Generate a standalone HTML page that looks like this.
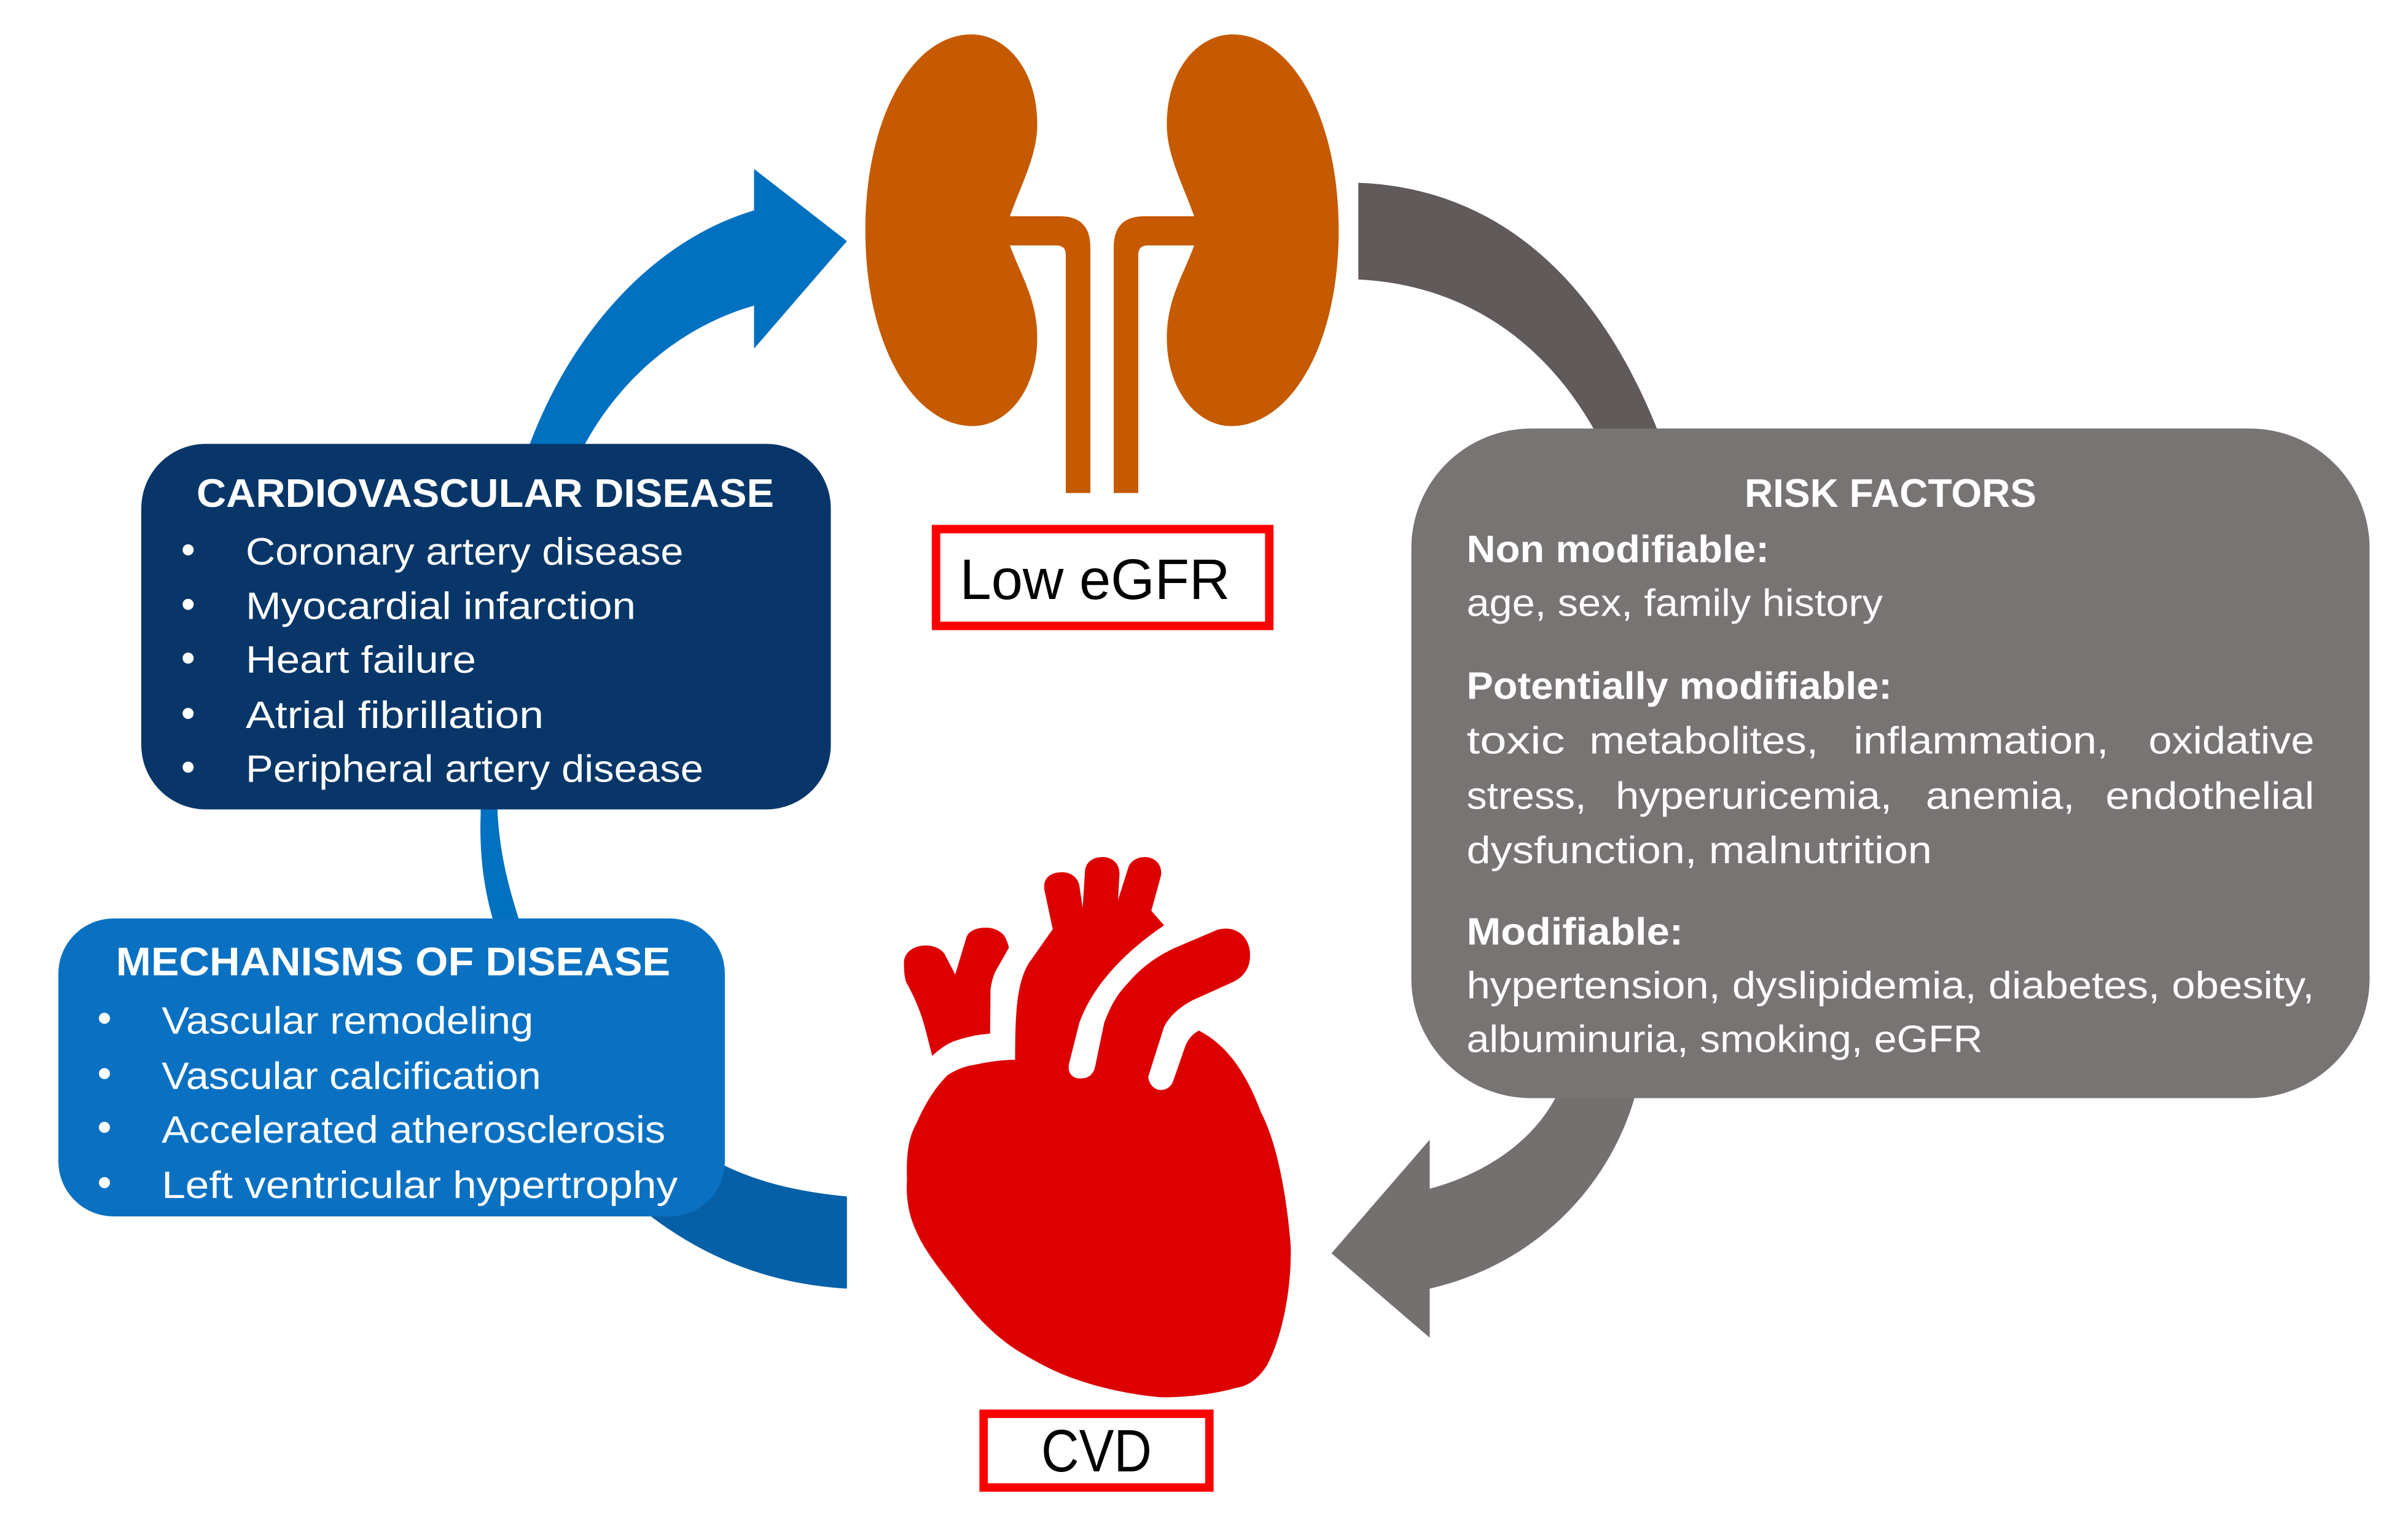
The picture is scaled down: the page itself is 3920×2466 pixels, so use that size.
<!DOCTYPE html>
<html><head><meta charset="utf-8"><style>
html,body{margin:0;padding:0;background:#fff;}
svg{display:block;}
text{font-family:"Liberation Sans",sans-serif;}
</style></head><body>
<svg width="3920" height="2466" viewBox="0 0 1568 986.4" xmlns="http://www.w3.org/2000/svg">
<rect x="0" y="0" width="1568" height="986.4" fill="#ffffff"/>

<path d="M884.5,119 C 965,122 1040,170 1085,295 L1046,295 C 1010,220 950,185 884.5,182 Z" fill="#615a5b"/>
<path d="M1068,700 C 1055,765 1005,822 931,839 L931,871 L867,816 L931,742 L931,774 C 975,762 1008,735 1019,700 Z" fill="#747070"/>

<path d="M491,137 L491,110 L551.5,157 L491,227 L491,199 C 445,212 405,245 381,289 C 350,350 322,440 324,530 C 326,560 332,580 339,602 L 322,602 C 315,580 312,555 313,530 C 312,420 328,340 345,289 C 375,210 430,155 491,137 Z" fill="#0070c0"/>
<path d="M551.5,779 C 520,776 495,770 472,759 L 440,740 L 415,785 C 455,818 500,836 551.5,839 Z" fill="#0560a8"/>

<rect x="92" y="289" width="449" height="238" rx="42" fill="#083668"/>
<text x="316" y="330" text-anchor="middle" fill="#fff" font-size="26" font-weight="bold" textLength="376" lengthAdjust="spacingAndGlyphs">CARDIOVASCULAR DISEASE</text>
<g fill="#fff" font-size="25">
<circle cx="122.5" cy="358" r="3.6"/><circle cx="122.5" cy="393.5" r="3.6"/><circle cx="122.5" cy="428.5" r="3.6"/><circle cx="122.5" cy="464.5" r="3.6"/><circle cx="122.5" cy="499.5" r="3.6"/>
<text x="160" y="367.5" textLength="285" lengthAdjust="spacingAndGlyphs">Coronary artery disease</text>
<text x="160" y="403" textLength="254" lengthAdjust="spacingAndGlyphs">Myocardial infarction</text>
<text x="160" y="438" textLength="150" lengthAdjust="spacingAndGlyphs">Heart failure</text>
<text x="160" y="474" textLength="194" lengthAdjust="spacingAndGlyphs">Atrial fibrillation</text>
<text x="160" y="509" textLength="298" lengthAdjust="spacingAndGlyphs">Peripheral artery disease</text>
</g>

<rect x="38" y="598" width="434" height="194" rx="36" fill="#0a71c2"/>
<text x="256" y="635" text-anchor="middle" fill="#fff" font-size="26" font-weight="bold" textLength="361" lengthAdjust="spacingAndGlyphs">MECHANISMS OF DISEASE</text>
<g fill="#fff" font-size="25">
<circle cx="68" cy="663" r="3.6"/><circle cx="68" cy="699" r="3.6"/><circle cx="68" cy="734" r="3.6"/><circle cx="68" cy="770" r="3.6"/>
<text x="105.3" y="673" textLength="242" lengthAdjust="spacingAndGlyphs">Vascular remodeling</text>
<text x="105.3" y="709" textLength="247" lengthAdjust="spacingAndGlyphs">Vascular calcification</text>
<text x="105.3" y="744" textLength="328" lengthAdjust="spacingAndGlyphs">Accelerated atherosclerosis</text>
<text x="105.3" y="780" textLength="336" lengthAdjust="spacingAndGlyphs">Left ventricular hypertrophy</text>
</g>

<rect x="919" y="279" width="624" height="436" rx="78" fill="#787473"/>
<g fill="#fff" font-size="25">
<text x="1231" y="330" text-anchor="middle" font-size="26" font-weight="bold" textLength="190" lengthAdjust="spacingAndGlyphs">RISK FACTORS</text>
<text x="955" y="366" font-weight="bold" textLength="197" lengthAdjust="spacingAndGlyphs">Non modifiable:</text>
<text x="955" y="401" textLength="271" lengthAdjust="spacingAndGlyphs">age, sex, family history</text>
<text x="955" y="455" font-weight="bold" textLength="277" lengthAdjust="spacingAndGlyphs">Potentially modifiable:</text>
<text x="955" y="490.5" textLength="64" lengthAdjust="spacingAndGlyphs">toxic</text>
<text x="1035" y="490.5" textLength="149" lengthAdjust="spacingAndGlyphs">metabolites,</text>
<text x="1207" y="490.5" textLength="166" lengthAdjust="spacingAndGlyphs">inflammation,</text>
<text x="1507" y="490.5" text-anchor="end" textLength="108" lengthAdjust="spacingAndGlyphs">oxidative</text>
<text x="955" y="526.5" textLength="78" lengthAdjust="spacingAndGlyphs">stress,</text>
<text x="1052" y="526.5" textLength="180" lengthAdjust="spacingAndGlyphs">hyperuricemia,</text>
<text x="1254" y="526.5" textLength="97" lengthAdjust="spacingAndGlyphs">anemia,</text>
<text x="1507" y="526.5" text-anchor="end" textLength="136" lengthAdjust="spacingAndGlyphs">endothelial</text>
<text x="955" y="562" textLength="303" lengthAdjust="spacingAndGlyphs">dysfunction, malnutrition</text>
<text x="955" y="615" font-weight="bold" textLength="141" lengthAdjust="spacingAndGlyphs">Modifiable:</text>
<text x="955" y="650" textLength="552" lengthAdjust="spacingAndGlyphs">hypertension, dyslipidemia, diabetes, obesity,</text>
<text x="955" y="685" textLength="336" lengthAdjust="spacingAndGlyphs">albuminuria, smoking, eGFR</text>
</g>

<g fill="#c55a00">
<path d="M657.6,140.8 C 665,120 676,100 675.4,79.7 C 675,45 655,22.4 632.5,22.4 C 595,22.4 563.5,75 563.5,150 C 563.5,225 595,277.4 633.6,277.4 C 655,277.4 675.4,255 675.4,220 C 675.4,195 665,180 657.6,159.8 Z"/>
<path d="M657.6,140.8 H690 Q710,140.8 710,161 V321 H694 V166 Q694,159.8 688,159.8 H657.6 Z"/>
<g transform="translate(1435.2,0) scale(-1,1)">
<path d="M657.6,140.8 C 665,120 676,100 675.4,79.7 C 675,45 655,22.4 632.5,22.4 C 595,22.4 563.5,75 563.5,150 C 563.5,225 595,277.4 633.6,277.4 C 655,277.4 675.4,255 675.4,220 C 675.4,195 665,180 657.6,159.8 Z"/>
<path d="M657.6,140.8 H690 Q710,140.8 710,161 V321 H694 V166 Q694,159.8 688,159.8 H657.6 Z"/>
</g>
</g>

<rect x="609.5" y="344.5" width="217" height="63" fill="#fff" stroke="#ff0000" stroke-width="5.5"/>
<text x="713" y="390" text-anchor="middle" font-size="37" fill="#000" textLength="176" lengthAdjust="spacingAndGlyphs">Low eGFR</text>

<g fill="#dd0000">
<path d="M661,690 C 661,660 662,640 670,627 L685.5,605 L680,579 C 679,571 685,567.9 691.6,567.9 C 698,567.9 702,572 702.8,576.4 L705,591 L706.5,567 C 707,561 712,558 718,558 C 724,558 729,562 729,569 L728,586 L735,564 C 737,560 741,558 745.6,558 C 752,558 757,563 756,570 L749.7,593 L758,602.5 C 735,618 712,640 702.8,666 L696,693 C 695,700 700,703 705,702 C 709,702 712,699 713,695 L719,666 C 725,650 730,645 735.4,639 C 745,628 755,622 764,617.6 L792.6,605.4 C 805,602 814,610 814,622 C 814,632 808,637 802.8,639.4 L776,651.5 C 768,656 762,661 758,668.5 L747.7,701 C 748,706 752,709.7 755.8,709.7 C 760,709.7 763,707 764,703.6 L772,680.6 C 774,676 777,673 780.7,671 C 800,681 812,700 821,724 C 832,745 838,780 840.5,811.5 C 841,840 835,870 825,889 C 818,900 810,903 804.8,903.6 C 790,908 770,910 755.8,909.7 C 735,908 715,903 702.8,898.8 C 688,894 675,887 662,879 C 645,868 632,853 621,838 C 608,822 600,810 596.7,801.8 C 591,790 590,778 590.6,768 C 590,750 592,740 596.7,731.5 C 603,717 610,707 617,700 C 625,695 630,694 637.5,692.7 C 645,691 655,690 661,690 Z"/>
<path d="M607,687.4 C 612,683 616,680 621,678 C 630,675 637,673.5 644.7,673 L645,644 C 646,638 647,634 649.8,629.7 L657,617 C 656,613 655,611 653.8,609 C 650,605 646,604 641.6,604 C 636,604 631,606 629.4,610 L622,634.5 L615,621 C 612,617 607,615.6 602.8,615.6 C 595,615.6 588.6,620 588.6,627 C 588.6,632 589,636 590,639.4 C 596,650 600,660 602.8,671 Z"/>
</g>

<rect x="640.5" y="920.5" width="147" height="48" fill="#fff" stroke="#ff0000" stroke-width="5.5"/>
<text x="714" y="958" text-anchor="middle" font-size="39" fill="#000" textLength="72" lengthAdjust="spacingAndGlyphs">CVD</text>
</svg>
</body></html>
